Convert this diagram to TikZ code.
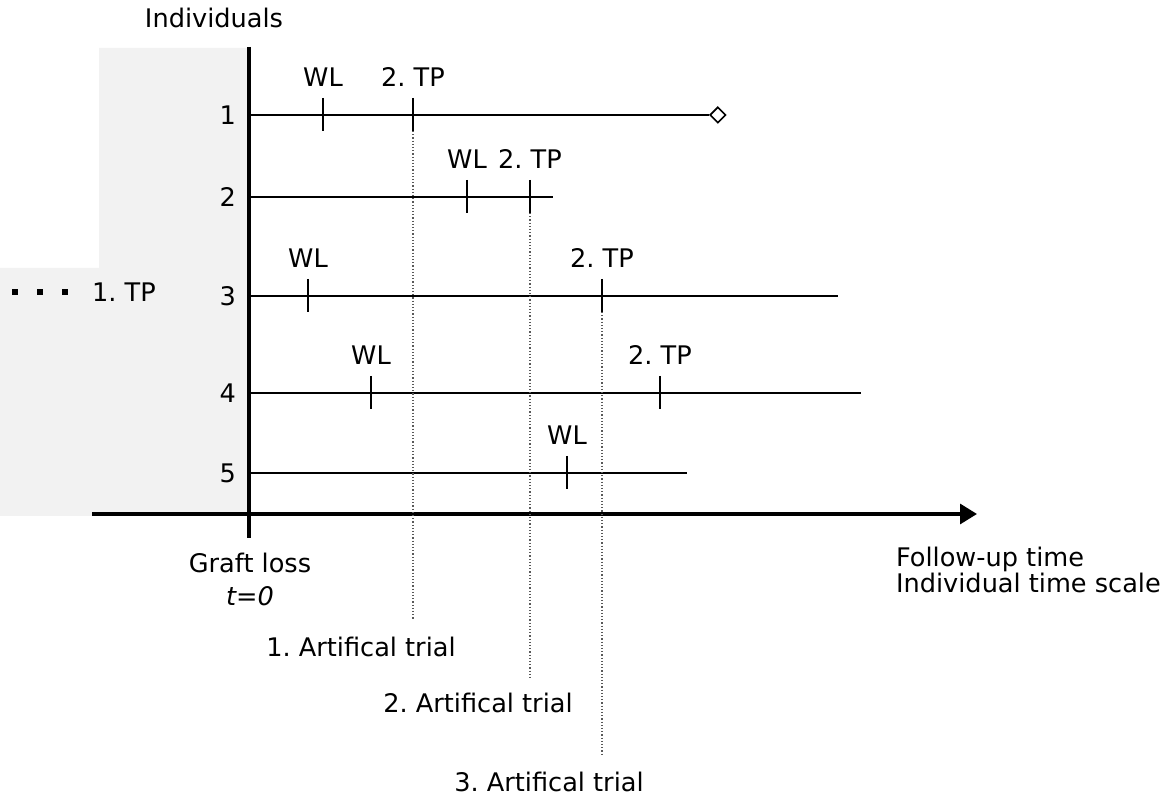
\documentclass[tikz,border=0pt]{standalone}
\usepackage{fontspec}
\setmainfont{DejaVu Sans}
\usetikzlibrary{arrows.meta, shapes.geometric}
\frenchspacing

\begin{document}
\begin{tikzpicture}[x=0.5pt, y=-0.5pt, font=\fontsize{12.8}{15}\selectfont,
	axisline/.style={black, line width=1.6pt},
	rowline/.style={black, line width=1.25pt},
	tickline/.style={black, line width=0.7pt},
	trialline/.style={black!65, line width=0.6pt, densely dotted}]
\useasboundingbox (0,0) rectangle (1169,795);
\fill[black!5] (99,48)--(249,48)--(249,516)--(0,516)--(0,268)--(99,268)--cycle;

% axes
\coordinate (ytop) at (249,47);
\coordinate (ybot) at (249,538);
\coordinate (xleft) at (92,514);
\coordinate (xright) at (977,514);
\draw[axisline](ytop)--(ybot);
\draw[axisline, -{Triangle[length=8.5pt, width=10pt]}](xleft)--(xright);
\node (indiv) at (214,18) {Individuals};
\node (graft) at (250,563) {Graft loss};
\node (tzero) at (250,596) {\itshape t=0};
\node[anchor=west, align=left, font=\fontsize{12.8}{13.2}\selectfont] (fup) at (889,570) {Follow-up time\\Individual time scale};

% individuals
\foreach \n/\y/\e in {1/115/709, 2/197/553, 3/296/838, 4/393/861, 5/473/687}{
	\node[anchor=east] (lab\n) at (243,\y) {\n};
	\coordinate (s\n) at (249,\y);
	\coordinate (e\n) at (\e,\y);
	\draw[rowline](s\n)--(e\n);
}
\node[diamond, draw, fill=white, line width=0.8pt, inner sep=0pt, minimum size=8pt, anchor=west] (cens) at (e1) {};

% waiting list and 2. TP marks
\foreach \x/\y/\t [count=\i] in {323/115/WL, 413/115/2. TP, 467/197/WL, 530/197/2. TP,
	308/296/WL, 602/296/2. TP, 371/393/WL, 660/393/2. TP, 567/473/WL}{
	\coordinate (m\i) at (\x,\y-17);
	\coordinate (b\i) at (\x,\y+16);
	\draw[tickline](m\i)--(b\i);
	\node (tl\i) at (\x,\y-38) {\t};
}

% artificial trials
\node (trial1) at (361,647) {1. Artifical trial};
\node (trial2) at (478,703) {2. Artifical trial};
\node (trial3) at (549,782) {3. Artifical trial};
\coordinate (c1) at (413,620);
\coordinate (c2) at (530,680);
\coordinate (c3) at (602,755);
\draw[trialline](b2)--(c1);
\draw[trialline](b4)--(c2);
\draw[trialline](b6)--(c3);

% earlier transplantation
\node (tp1) at (124,292) {1. TP};
\coordinate (d1) at (12,292);
\coordinate (d2) at (68,292);
\draw[black, line width=3pt, dash pattern=on 3pt off 9.5pt](d1)--(d2);
\end{tikzpicture}
\end{document}
